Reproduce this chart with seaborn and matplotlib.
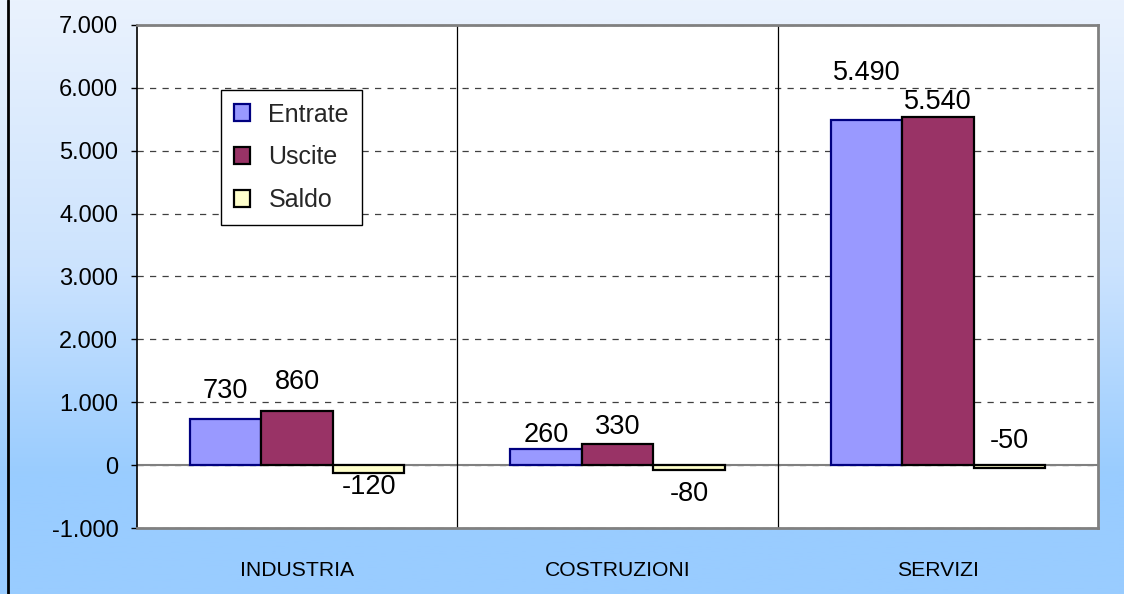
import numpy as np
import pandas as pd
import matplotlib
matplotlib.use("Agg")
import matplotlib.pyplot as plt
from matplotlib.patches import Patch
from matplotlib.lines import Line2D
from matplotlib.colors import LinearSegmentedColormap
from matplotlib.ticker import FuncFormatter, MultipleLocator
import seaborn as sns

settori = ["INDUSTRIA", "COSTRUZIONI", "SERVIZI"]
serie = ["Entrate", "Uscite", "Saldo"]
entrate = [730, 260, 5490]
uscite = [860, 330, 5540]
saldo = [-120, -80, -50]

colori = ["#9999FF", "#993366", "#FFFFCC"]
bordi = ["#000080", "#000000", "#000000"]
# label offsets in px from bar end
off_lab = [[28, 14, 47], [29, 17, 15], [-14, -24, 27]]

df = pd.DataFrame({
    "settore": settori * 3,
    "serie": [s for s in serie for _ in settori],
    "valore": entrate + uscite + saldo,
})

def fmt(v, pos=None):
    return f"{v:,.0f}".replace(",", ".")

sns.set_theme(style="white")
plt.rcParams["font.family"] = ["Liberation Sans", "DejaVu Sans"]

fig = plt.figure(figsize=(11.24, 5.94), dpi=100)

# gradient background
bg = fig.add_axes([0, 0, 1, 1], zorder=-10)
cmap = LinearSegmentedColormap.from_list("bg", [(0, "#EAF2FD"), (0.45, "#CCE3FE"), (0.8, "#99CCFF"), (1, "#99CCFF")])
bg.imshow(np.linspace(0, 1, 256).reshape(-1, 1), aspect="auto", cmap=cmap, extent=[0, 1, 1, 0])
bg.axis("off")
fig.add_artist(Line2D([0.0072, 0.0072], [0, 1], color="black", lw=2))

ax = fig.add_axes([0.1219, 0.1111, 0.855, 0.847])
ax.set_facecolor("white")
sns.barplot(data=df, x="settore", y="valore", hue="serie", order=settori,
            hue_order=serie, palette=colori, width=0.67, saturation=1,
            legend=False, ax=ax, zorder=3)

for cont, ec in zip(ax.containers, bordi):
    for p in cont:
        p.set_edgecolor(ec)
        p.set_linewidth(1.6)

valori = [entrate, uscite, saldo]
for i, cont in enumerate(ax.containers):
    for j, p in enumerate(cont):
        if valori[i][j] >= 0:
            fine = max(p.get_y(), p.get_y() + p.get_height())
        else:
            fine = min(p.get_y(), p.get_y() + p.get_height())
        ax.annotate(fmt(valori[i][j]),
                    (p.get_x() + p.get_width() / 2, fine),
                    xytext=(0, off_lab[i][j] * 0.72), textcoords="offset points",
                    ha="center", va="center", fontsize=19.5, color="black", zorder=5)

ax.set_ylim(-1000, 7000)
ax.set_xlim(-0.5, 2.5)
ax.yaxis.set_major_locator(MultipleLocator(1000))
ax.yaxis.set_major_formatter(FuncFormatter(fmt))
ax.grid(axis="y", color="#404040", linestyle=(0, (5, 5)), lw=0.9, zorder=1)
ax.axhline(0, color="#808080", lw=1.5, zorder=2)
for xs in [0.5, 1.5]:
    ax.axvline(xs, color="black", lw=0.9, zorder=2)

for s in ["top", "right", "bottom"]:
    ax.spines[s].set_color("#808080")
    ax.spines[s].set_linewidth(2)
ax.spines["left"].set_color("black")
ax.spines["left"].set_linewidth(1.2)

ax.tick_params(axis="y", left=True, length=4.5, width=1, color="black",
               pad=9, labelsize=17, labelcolor="black")
ax.tick_params(axis="x", bottom=False, pad=18, labelsize=15.2, labelcolor="black")
ax.set_xlabel("")
ax.set_ylabel("")

handles = [Patch(facecolor=c, edgecolor=e, lw=1.6) for c, e in zip(colori, bordi)]
leg = fig.legend(handles, serie, loc="upper left", bbox_to_anchor=(221 / 1124, 1 - 90 / 594),
                 frameon=True, fancybox=False, shadow=False, fontsize=18,
                 handlelength=0.65, handleheight=0.65, handletextpad=0.75,
                 labelspacing=0.75, borderpad=0.5, borderaxespad=0)
leg.get_frame().set_edgecolor("black")
leg.get_frame().set_linewidth(1)
leg.get_frame().set_facecolor("white")
leg.get_frame().set_alpha(1)

fig.savefig("out.png", dpi=100)
